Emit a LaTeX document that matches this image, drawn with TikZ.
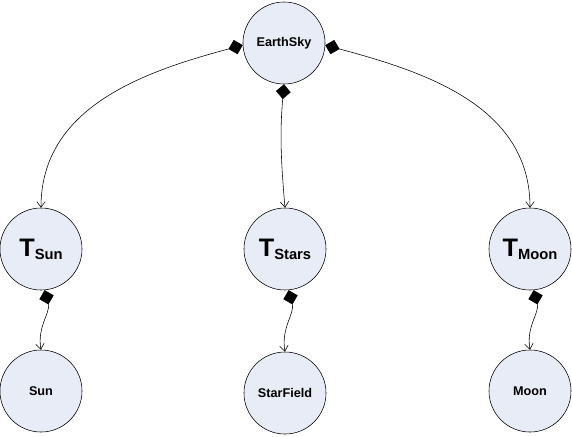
\documentclass[tikz,border=0pt]{standalone}
\usepackage{fontspec}
\setmainfont{Liberation Sans}
\usetikzlibrary{arrows.meta}
\definecolor{nodefill}{HTML}{E8ECF7}
\newcommand{\tname}[1]{{\fontsize{18}{18}\selectfont T}\raisebox{-0.45ex}{\fontsize{10.5}{10.5}\selectfont #1}}
\begin{document}
\begin{tikzpicture}[x=0.025cm, y=-0.025cm,
  obj/.style={circle, draw, thin, fill=nodefill, minimum size=2.05cm, inner sep=0pt, font=\fontsize{9}{9}\selectfont\bfseries},
  link/.style={draw, thin, {Diamond[fill=black, length=10.5pt, width=10.5pt]}-{Straight Barb[length=4pt, width=6pt]}}]
\useasboundingbox (0,0) rectangle (572,436);
\node[obj] (sky) at (284,43){EarthSky};
\node[obj] (tsun) at (41,249){\tname{Sun}};
\node[obj] (tstars) at (285,249){\tname{Stars}};
\node[obj] (tmoon) at (530,249){\tname{Moon}};
\node[obj] (sun) at (41,391){Sun};
\node[obj] (field) at (285,393){StarField};
\node[obj] (moon) at (530,391){Moon};
\draw[link] (sky.183) to[out=195, in=90] (tsun.north);
\draw[link] (sky.south) to[out=265, in=95] (tstars.north);
\draw[link] (sky.-3) to[out=-15, in=90] (tmoon.north);
\draw[link] (tsun.-85) to[out=-75, in=100] (sun.north);
\draw[link] (tstars.-85) to[out=-75, in=100] (field.north);
\draw[link] (tmoon.-85) to[out=-75, in=100] (moon.north);
\end{tikzpicture}
\end{document}
